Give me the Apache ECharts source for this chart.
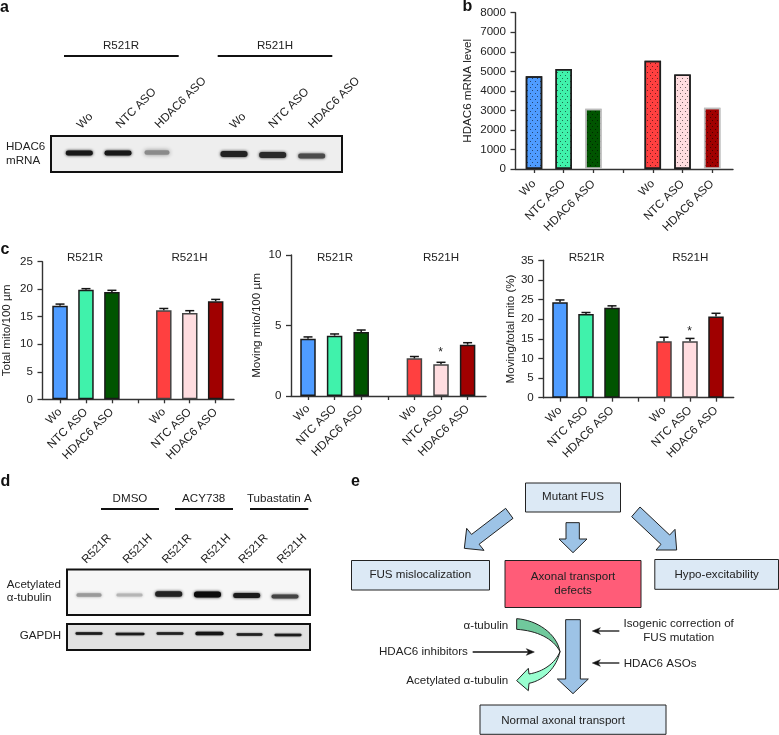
<!DOCTYPE html>
<html><head><meta charset="utf-8">
<style>html,body{margin:0;padding:0;background:#fff}#c{width:779px;height:735px}</style>
<script src="https://cdn.jsdelivr.net/npm/echarts@6/dist/echarts.min.js"></script>
</head><body><div id="c"></div>
<script>
// ---- data ----
const xLabels = ['Wo','NTC ASO','HDAC6 ASO','','Wo','NTC ASO','HDAC6 ASO'];
const groupLabels = ['R521R','R521H'];
const barColors = ['#4f9cff','#40f2ab','#005400','','#ff4040','#ffdde0','#a00000'];
const mrnaValues = [4750,5120,3080,null,5540,4840,3130];
const totalMito = [17.0,19.9,19.5,null,16.2,15.7,17.8];
const totalMitoErr = [0.3,0.2,0.3,null,0.3,0.4,0.35];
const movingMito = [4.06,4.28,4.54,null,2.67,2.25,3.64];
const movingMitoErr = [0.13,0.12,0.14,null,0.13,0.14,0.14];
const movingPct = [24.3,21.3,22.9,null,14.4,14.4,20.7];
const movingPctErr = [0.6,0.4,0.5,null,1.0,0.7,0.8];

const FONT = '"Liberation Sans", Arial, sans-serif';
const INK = '#222';
const FS = 11.6;

function panel(i, cfg){
  const xmin = (cfg.left - cfg.x0)/cfg.step, xmax = (cfg.right - cfg.x0)/cfg.step;
  return {
    grid:{left:cfg.left, top:cfg.top, width:cfg.right-cfg.left, height:cfg.bottom-cfg.top, containLabel:false},
    xAxis:{gridIndex:i,type:'value',min:xmin,max:xmax,splitLine:{show:false},
      axisLine:{show:true,onZero:false,lineStyle:{color:'#333',width:1.4}},
      axisTick:{show:true,length:4,customValues:[0,1,2,3,4,5,6],lineStyle:{color:'#333',width:1.3}},
      axisLabel:{show:true,customValues:[0,1,2,4,5,6],rotate:45,margin:cfg.xMargin,fontSize:FS,fontFamily:FONT,color:INK,
        formatter:v=>xLabels[Math.round(v)]}},
    yAxis:{gridIndex:i,type:'value',min:0,max:cfg.ymax,interval:cfg.yint,splitLine:{show:false},
      name:cfg.name,nameLocation:'middle',nameGap:cfg.nameGap,nameRotate:90,nameMoveOverlap:false,
      nameTextStyle:{fontSize:FS,fontFamily:FONT,color:INK},
      axisLine:{show:true,onZero:false,lineStyle:{color:'#333',width:1.4}},
      axisTick:{show:true,length:5,lineStyle:{color:'#333',width:1.3}},
      axisLabel:{margin:9.5,fontSize:FS,fontFamily:FONT,color:INK,formatter:v=>String(v)}},
    bar:{type:'bar',xAxisIndex:i,yAxisIndex:i,barWidth:cfg.barWidth,animation:false,
      data:cfg.values.map((v,k)=>{
        if(v==null) return null;
        const st={color:barColors[k],borderColor:cfg.border(k),borderWidth:1.5};
        if(cfg.dotted) st.decal={symbol:'rect',symbolSize:1,dashArrayX:[[1,4],[0,2,1,2]],dashArrayY:[1,2],color:'rgba(0,0,0,0.55)',rotation:0};
        return {value:[k,v],itemStyle:st};
      }).filter(Boolean)},
    err:cfg.errs?{type:'custom',xAxisIndex:i,yAxisIndex:i,animation:false,z:3,
      data:cfg.values.map((v,k)=>v==null?null:[k,v,cfg.errs[k]]).filter(Boolean),
      renderItem:(p,api)=>{
        const x=api.value(0),y=api.value(1),e=api.value(2);
        const a=api.coord([x,y]),b=api.coord([x,y+e]);
        const s={stroke:'#151515',lineWidth:1.5};
        return {type:'group',children:[
          {type:'line',shape:{x1:a[0],y1:a[1],x2:b[0],y2:b[1]},style:s},
          {type:'line',shape:{x1:b[0]-4.5,y1:b[1],x2:b[0]+4.5,y2:b[1]},style:s}]};
      }}:null
  };
}
const darkEdge = k => (k===4||k===5)?'#444':'#1a1a1a';
const panels = [
  panel(0,{left:515.5,right:733,top:12.7,bottom:169,x0:534,step:29.7,ymax:8000,yint:1000,name:'HDAC6 mRNA level',nameGap:42,xMargin:13,barWidth:16.5,values:mrnaValues,dotted:true,
    border:k=>(k===2||k===6)?'#bdbdbd':'#1f1f1f'}),
  panel(1,{left:41.7,right:234,top:261.7,bottom:399.3,x0:59.3,step:26.05,ymax:25,yint:5,name:'Total mito/100 µm',nameGap:29.5,xMargin:11,barWidth:15.5,values:totalMito,errs:totalMitoErr,border:darkEdge}),
  panel(2,{left:291,right:486,top:255,bottom:396,x0:308,step:26.6,ymax:10,yint:5,name:'Moving mito/100 µm',nameGap:28,xMargin:11,barWidth:15.5,values:movingMito,errs:movingMitoErr,border:darkEdge}),
  panel(3,{left:543.3,right:733.7,top:260.3,bottom:397.7,x0:560,step:26,ymax:35,yint:5,name:'Moving/total mito (%)',nameGap:27,xMargin:11,barWidth:15.5,values:movingPct,errs:movingPctErr,border:darkEdge})
];

// ---- annotation drawing helpers (non-data: gels, schematic, labels) ----
const g=[];
function txt(s,x,y,o={}){g.push({type:'text',x,y,rotation:o.rot||0,z:10,silent:true,style:{text:s,fontSize:o.size||FS,fontWeight:o.bold?'bold':'normal',fontFamily:FONT,fill:o.fill||INK,align:o.align||'center',verticalAlign:'middle'}});}
function box(x1,y1,x2,y2,fill,stroke,lw){g.push({type:'rect',z:5,silent:true,shape:{x:x1,y:y1,width:x2-x1,height:y2-y1},style:{fill,stroke,lineWidth:lw}});}
function hline(x1,x2,y,lw=2){g.push({type:'line',z:5,silent:true,shape:{x1,y1:y,x2,y2:y},style:{stroke:'#111',lineWidth:lw}});}
function band(cx,cy,w,h,col,blur=3,op=1){g.push({type:'rect',z:6,silent:true,shape:{x:cx-w/2,y:cy-h/2,width:w,height:h,r:h/2.2},style:{fill:col,opacity:op,shadowBlur:blur,shadowColor:col}});}
const OX=340,OY=470;
const zp=(x,y)=>[OX+x/3,OY+y/3];
function poly(pts,fill,stroke='#222',lw=1){g.push({type:'polygon',z:7,silent:true,shape:{points:pts.map(p=>zp(p[0],p[1]))},style:{fill,stroke,lineWidth:lw}});}
function bez(p0,p1,p2,p3,n=16){const o=[];for(let i=0;i<=n;i++){const t=i/n,u=1-t;o.push([0,1].map(k=>u*u*u*p0[k]+3*u*u*t*p1[k]+3*u*t*t*p2[k]+t*t*t*p3[k]));}return o;}
function thinArrow(x1,x2,y){
  const dir=x2>x1?1:-1;
  g.push({type:'line',z:7,silent:true,shape:{x1:zp(x1,y)[0],y1:zp(x1,y)[1],x2:zp(x2-dir*12,y)[0],y2:zp(x1,y)[1]},style:{stroke:'#111',lineWidth:1.3}});
  poly([[x2,y],[x2-dir*24,y-10],[x2-dir*17,y],[x2-dir*24,y+10]],'#111','#111',0.5);
}

// panel letters
txt('a',0,8,{align:'left',bold:true,size:16,fill:'#111'});
txt('b',462.5,7,{align:'left',bold:true,size:16,fill:'#111'});
txt('c',0.5,250,{align:'left',bold:true,size:16,fill:'#111'});
txt('d',0.5,482,{align:'left',bold:true,size:16,fill:'#111'});
txt('e',351,482,{align:'left',bold:true,size:16,fill:'#111'});

// panel a
txt(groupLabels[0],121,46); txt(groupLabels[1],275,46);
hline(64,178.7,56); hline(217.7,332.3,56);
[[79,127],[118,126.5],[157,126.5]].forEach((p,i)=>txt(xLabels[i],p[0],p[1],{align:'left',rot:Math.PI/4}));
[[232,127],[270.7,126.5],[310.5,126.5]].forEach((p,i)=>txt(xLabels[i+4],p[0],p[1],{align:'left',rot:Math.PI/4}));
box(51,136,342,172,'#eeeeee','#111',2);
band(79.3,153,27,5,'#181818'); band(118,153,27,5,'#181818'); band(157,152.5,25,4.5,'#8a8a8a',4);
band(234,154,27,6,'#222'); band(272.7,155,27,6,'#2a2a2a'); band(311.7,156,27,5,'#4a4a4a');
txt('HDAC6',6,146.7,{align:'left'}); txt('mRNA',6,160.7,{align:'left'});

// panel c headers
[[85,258],[189.5,258],[335,257.5],[441,258],[586.7,258],[690.3,258]].forEach((p,i)=>txt(groupLabels[i%2],p[0],p[1]));
txt('*',440.7,353,{size:12}); txt('*',689.7,331.5,{size:12});

// panel d
txt('DMSO',130,499); txt('ACY738',203.7,499); txt('Tubastatin A',279.3,499);
hline(101,159,509); hline(175,233,509); hline(250,308.3,509);
[84,125,164.3,203.3,240.7,279.3].forEach((x,i)=>txt(groupLabels[i%2],x,561.7,{align:'left',rot:Math.PI/4}));
box(67,569.5,310,615,'#f6f6f6','#111',2);
box(67,624,310,650,'#e2e2e2','#111',2);
const dA=[[89,595,25,3.5,'#999'],[129.5,595,26,3,'#b5b5b5'],[168.7,594,27,5.5,'#222'],[207.5,594.5,27,6,'#0c0c0c'],[246.7,595.5,27,5,'#1a1a1a'],[285,596.5,27,4,'#444']];
dA.forEach(b=>band(b[0],b[1],b[2],b[3],b[4]));
const dB=[[89,633.5,27,2.5,'#1c1c1c'],[130,634,29,2.5,'#1c1c1c'],[170,633.5,27,2.5,'#222'],[209.5,633.5,28,3.5,'#151515'],[249.5,634.5,26,2.5,'#222'],[288,635,27,2.5,'#1c1c1c']];
dB.forEach(b=>band(b[0],b[1],b[2],b[3],b[4],1.5));
txt('Acetylated',61,585,{align:'right'}); txt('α-tubulin',6.7,598,{align:'left'}); txt('GAPDH',61,636,{align:'right'});

// panel e
const LB='#dce9f5';
box(525.5,483,620.5,512,LB,'#222',1);
box(351.5,560.5,489.5,590,LB,'#222',1);
box(505,560.5,641,607.5,'#ff5c78','#222',1);
box(654.8,559.5,778.5,589.3,LB,'#222',1);
box(480,705,666,734.3,LB,'#222',1);
txt('Mutant FUS',573,496.7); txt('FUS mislocalization',420.3,575);
txt('Axonal transport',573,576.7); txt('defects',573,590.7);
txt('Hypo-excitability',716.7,574.3); txt('Normal axonal transport',563,720.7);
txt('α-tubulin',508.3,625.3,{align:'right'}); txt('HDAC6 inhibitors',379,651.7,{align:'left'});
txt('Acetylated α-tubulin',508.3,680.3,{align:'right'});
txt('Isogenic correction of',678.7,624); txt('FUS mutation',678.7,637.7); txt('HDAC6 ASOs',623.7,663.3,{align:'left'});
const AB='#9dc3e6';
poly([[497,115],[394.6,193.3],[380,175],[373,235],[432,241],[417.3,222.7],[519,145]],AB);
poly([[678,158],[718,158],[718,207],[741,207],[699,248],[657,207],[678,207]],AB);
poly([[900,111],[989,195],[1005,178],[1010,240],[948,240],[963,223],[875,140]],AB);
poly([[677,449],[721,449],[721,627],[745,627],[699,671],[652,627],[677,627]],AB);
thinArrow(398,583,546); thinArrow(838,757,483); thinArrow(838,757,579);
poly([...bez([530,446],[590,450],[650,490],[660,545]),...bez([660,545],[640,505],[590,482],[530,478])],'#70c99c');
poly([...bez([660,545],[650,590],[615,630],[567,640]),[565,662],[530,632],[565,595],...bez([567,612],[610,605],[645,580],[660,545])],'#99ffd0');

const chart=echarts.init(document.getElementById('c'),null,{renderer:'canvas',width:779,height:735});
chart.setOption({
  animation:false,backgroundColor:'#fff',
  grid:panels.map(p=>p.grid),xAxis:panels.map(p=>p.xAxis),yAxis:panels.map(p=>p.yAxis),
  series:panels.flatMap(p=>p.err?[p.bar,p.err]:[p.bar]),
  graphic:g
});
</script></body></html>
